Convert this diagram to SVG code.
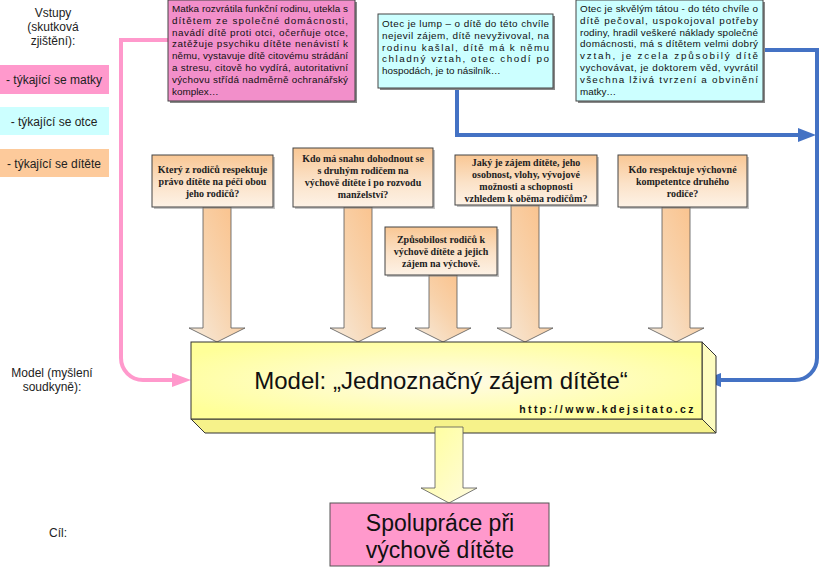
<svg xmlns="http://www.w3.org/2000/svg" width="820" height="568" viewBox="0 0 820 568">
<defs>
<linearGradient id="qbox" x1="0" y1="0" x2="0" y2="1">
<stop offset="0" stop-color="#f9c794"/>
<stop offset="0.55" stop-color="#fbe2c8"/>
<stop offset="1" stop-color="#fdf2e6"/>
</linearGradient>
<linearGradient id="arr" x1="1" y1="0" x2="0" y2="1">
<stop offset="0" stop-color="#fbbf86"/>
<stop offset="0.5" stop-color="#f8d2ab"/>
<stop offset="1" stop-color="#f6ebdd"/>
</linearGradient>
<radialGradient id="model" cx="0.5" cy="0.5" r="0.6">
<stop offset="0" stop-color="#fffbe8"/>
<stop offset="1" stop-color="#ffff99"/>
</radialGradient>
<linearGradient id="yarr" x1="0" y1="0" x2="1" y2="1">
<stop offset="0" stop-color="#ffff99"/>
<stop offset="1" stop-color="#fffbe0"/>
</linearGradient>
</defs>
<style>
.lbl{font-family:"Liberation Sans",Arial,sans-serif;font-size:12px;fill:#222;text-anchor:middle}
.small{font-family:"Liberation Sans",Arial,sans-serif;font-size:9.9px;fill:#111}
.q{font-family:"Liberation Serif","Times New Roman",serif;font-size:10px;font-weight:bold;fill:#222;text-anchor:middle}
.box{stroke:#444;stroke-width:1}
.shadow{fill:#888}
.conn{fill:none;stroke-width:4}
.bar{stroke:#555;stroke-width:0.8}
</style>

<g id="legend">
<text class="lbl" x="53" y="17">Vstupy</text>
<text class="lbl" x="53" y="31">(skutková</text>
<text class="lbl" x="53" y="45">zjištění):</text>
<rect x="0" y="65" width="109" height="29" fill="#ff99cc"/>
<text class="lbl" x="54" y="84">- týkající se matky</text>
<rect x="0" y="107" width="109" height="28" fill="#ccffff"/>
<text class="lbl" x="54" y="126">- týkající se otce</text>
<rect x="0" y="149" width="109" height="28" fill="#fdca9b"/>
<text class="lbl" x="54" y="168">- týkající se dítěte</text>
<text class="lbl" x="52" y="377">Model (myšlení</text>
<text class="lbl" x="52" y="391">soudkyně):</text>
<text class="lbl" x="58" y="537">Cíl:</text>
</g>

<g id="connectors">
<path class="conn" stroke="#ff99cc" d="M168 40 H121 V358 A22 22 0 0 0 143 380 H176"/>
<polygon fill="#ff99cc" points="172,373 191,380 172,387"/>
<path class="conn" stroke="#4472c4" d="M457 88 V135 H800"/>
<polygon fill="#4472c4" points="798,128 816,135 798,142"/>
<path class="conn" stroke="#4472c4" d="M763 50 H817 V358 A22 22 0 0 1 795 380 H718"/>
<polygon fill="#4472c4" points="721,373 703,380 721,387"/>
</g>

<g id="mother-box">
<rect x="170" y="2" width="187" height="101" class="shadow"/>
<rect x="168" y="0" width="187" height="101" fill="#f28fca" class="box"/>
<g class="small">
<text x="172" y="12" textLength="176">Matka rozvrátila funkční rodinu, utekla s</text>
<text x="172" y="23.8" textLength="176">dítětem ze společné domácnosti,</text>
<text x="172" y="35.6" textLength="176">navádí dítě proti otci, očerňuje otce,</text>
<text x="172" y="47.4" textLength="176">zatěžuje psychiku dítěte nenávistí k</text>
<text x="172" y="59.2" textLength="176">němu, vystavuje dítě citovému strádání</text>
<text x="172" y="71" textLength="176">a stresu, citově ho vydírá, autoritativní</text>
<text x="172" y="82.8" textLength="176">výchovu střídá nadměrně ochranářský</text>
<text x="172" y="94.6">komplex…</text>
</g>
</g>

<g id="father-bad">
<rect x="380" y="16" width="175" height="74" class="shadow"/>
<rect x="378" y="14" width="175" height="74" fill="#ccffff" class="box"/>
<g class="small">
<text x="382" y="27" textLength="167">Otec je lump – o dítě do této chvíle</text>
<text x="382" y="38.8" textLength="167">nejevil zájem, dítě nevyživoval, na</text>
<text x="382" y="50.6" textLength="167">rodinu kašlal, dítě má k němu</text>
<text x="382" y="62.4" textLength="167">chladný vztah, otec chodí po</text>
<text x="382" y="74.2">hospodách, je to násilník…</text>
</g>
</g>

<g id="father-good">
<rect x="578" y="2" width="187" height="101" class="shadow"/>
<rect x="576" y="0" width="187" height="101" fill="#ccffff" class="box"/>
<g class="small">
<text x="580" y="12" textLength="178">Otec je skvělým tátou - do této chvíle o</text>
<text x="580" y="23.8" textLength="178">dítě pečoval, uspokojoval potřeby</text>
<text x="580" y="35.6" textLength="178">rodiny, hradil veškeré náklady společné</text>
<text x="580" y="47.4" textLength="178">domácnosti, má s dítětem velmi dobrý</text>
<text x="580" y="59.2" textLength="178">vztah, je zcela způsobilý dítě</text>
<text x="580" y="71" textLength="178">vychovávat, je doktorem věd, vyvrátil</text>
<text x="580" y="82.8" textLength="178">všechna lživá tvrzení a obvinění</text>
<text x="580" y="94.6">matky…</text>
</g>
</g>

<g id="arrows-in">
<polygon class="bar" fill="url(#arr)" points="203,207 231,207 231,328 245,328 217,342 189,328 203,328"/>
<polygon class="bar" fill="url(#arr)" points="344,207 372,207 372,328 386,328 358,342 330,328 344,328"/>
<polygon class="bar" fill="url(#arr)" points="429,275 457,275 457,328 471,328 443,342 415,328 429,328"/>
<polygon class="bar" fill="url(#arr)" points="511,205 539,205 539,328 553,328 525,342 497,328 511,328"/>
<polygon class="bar" fill="url(#arr)" points="662,207 690,207 690,328 704,328 676,342 648,328 662,328"/>
</g>

<g id="q1">
<rect x="154" y="157" width="121" height="52" class="shadow" opacity="0.5"/>
<rect x="152" y="155" width="121" height="52" fill="url(#qbox)" class="box"/>
<text class="q" x="212.5" y="173">Který z rodičů respektuje</text>
<text class="q" x="212.5" y="185">právo dítěte na péči obou</text>
<text class="q" x="212.5" y="197">jeho rodičů?</text>
</g>
<g id="q2">
<rect x="295" y="150" width="140" height="59" class="shadow" opacity="0.5"/>
<rect x="293" y="148" width="140" height="59" fill="url(#qbox)" class="box"/>
<text class="q" x="363" y="162">Kdo má snahu dohodnout se</text>
<text class="q" x="363" y="174">s druhým rodičem na</text>
<text class="q" x="363" y="186">výchově dítěte i po rozvodu</text>
<text class="q" x="363" y="198">manželství?</text>
</g>
<g id="q3">
<rect x="457" y="157" width="142" height="50" class="shadow" opacity="0.5"/>
<rect x="455" y="155" width="142" height="50" fill="url(#qbox)" class="box"/>
<text class="q" x="526" y="166">Jaký je zájem dítěte, jeho</text>
<text class="q" x="526" y="178">osobnost, vlohy, vývojové</text>
<text class="q" x="526" y="190">možnosti a schopnosti</text>
<text class="q" x="526" y="202">vzhledem k oběma rodičům?</text>
</g>
<g id="q4">
<rect x="620" y="157" width="129" height="52" class="shadow" opacity="0.5"/>
<rect x="618" y="155" width="129" height="52" fill="url(#qbox)" class="box"/>
<text class="q" x="682.5" y="173">Kdo respektuje výchovné</text>
<text class="q" x="682.5" y="185">kompetentce druhého</text>
<text class="q" x="682.5" y="197">rodiče?</text>
</g>
<g id="q5">
<rect x="387" y="229" width="112" height="48" class="shadow" opacity="0.5"/>
<rect x="385" y="227" width="112" height="48" fill="url(#qbox)" class="box"/>
<text class="q" x="441" y="243">Způsobilost rodičů k</text>
<text class="q" x="441" y="255">výchově dítěte a jejich</text>
<text class="q" x="441" y="267">zájem na výchově.</text>
</g>

<g id="model">
<polygon points="191,419 702,419 716,433 205,433" fill="#f6f28a" stroke="#333" stroke-width="1"/>
<polygon points="702,342 716,356 716,433 702,419" fill="#fdfcc0" stroke="#333" stroke-width="1"/>
<rect x="191" y="342" width="511" height="77" fill="url(#model)" stroke="#333" stroke-width="1"/>
<text x="441" y="389" font-family="'Liberation Sans',Arial,sans-serif" font-size="24" text-anchor="middle" fill="#111">Model: „Jednoznačný zájem dítěte“</text>
<text x="696" y="413" font-family="'Liberation Sans',Arial,sans-serif" font-size="10.5" font-weight="bold" letter-spacing="2.4" text-anchor="end" fill="#111">http://www.kdejsitato.cz</text>
</g>

<g id="arrow-out">
<polygon class="bar" fill="url(#yarr)" points="435,427 463,427 463,488 477,488 449,503 421,488 435,488"/>
</g>

<g id="goal">
<rect x="330" y="503" width="219" height="63" fill="#ff99cc" stroke="#555" stroke-width="1"/>
<text x="440" y="531" font-family="'Liberation Sans',Arial,sans-serif" font-size="23" text-anchor="middle" fill="#111">Spolupráce při</text>
<text x="440" y="558" font-family="'Liberation Sans',Arial,sans-serif" font-size="23" text-anchor="middle" fill="#111">výchově dítěte</text>
</g>
</svg>
